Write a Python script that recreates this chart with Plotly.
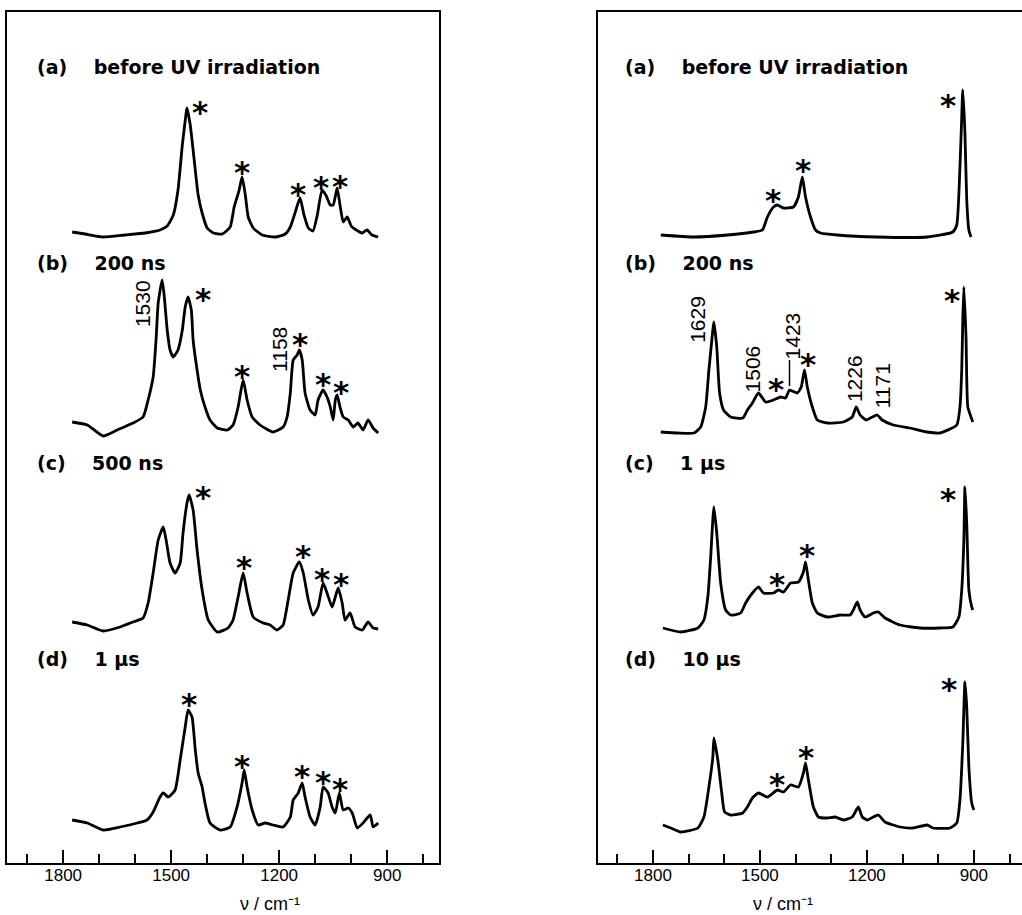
import plotly.graph_objects as go

# ---------------- data (wavenumber in cm-1, intensity above each trace's baseline, arbitrary units) ----
L_a_wn = [1775,1739,1689,1628,1572,1531,1511,1494,1481,1469,1458,1456,1447,1436,1425,1414,1400,1383,1358,1336,
          1325,1311,1303,1294,1286,1272,1247,1211,1183,1169,1156,1142,1131,1119,1106,1094,1081,1069,1058,1050,
          1039,1031,1022,1011,1000,990,969,956,942,925]
L_a_int = [6,4,1,3,5,8,12,23,48,93,126,130,113,78,43,25,10,5,4,11,
           31,48,61,43,21,10,3,1,4,11,25,40,23,10,7,23,48,42,33,33,
           50,33,16,21,12,9,5,8,3,1]

L_b_wn = [1775,1733,1689,1650,1606,1578,1564,1550,1542,1536,1525,1519,1511,1503,1494,1481,1469,1461,1453,1444,
          1439,1428,1419,1406,1392,1372,1344,1328,1314,1300,1289,1275,1253,1217,1189,1178,1169,1161,1150,1144,
          1136,1128,1114,1100,1092,1078,1067,1058,1050,1044,1039,1031,1022,1008,994,981,967,953,939,925]
L_b_int = [14,11,0,6,13,19,36,59,96,133,156,139,106,86,79,86,106,129,139,126,
           96,66,46,29,16,8,6,11,29,56,36,19,11,4,9,19,43,76,81,86,
           76,43,26,21,36,46,39,29,16,36,41,29,19,16,9,13,6,16,8,3]

L_c_wn = [1775,1733,1689,1642,1606,1578,1564,1550,1536,1522,1514,1503,1489,1475,1467,1456,1450,1439,1428,1414,
          1397,1372,1342,1328,1314,1300,1289,1272,1244,1225,1206,1189,1175,1161,1144,1133,1119,1106,1092,1078,
          1067,1053,1044,1036,1025,1017,1003,989,969,953,939,925]
L_c_int = [10,7,1,5,10,14,29,59,92,105,92,69,59,69,99,129,137,122,82,42,
           12,0,4,12,35,59,39,15,9,7,2,7,32,59,70,59,32,17,25,49,
           39,25,35,44,29,12,19,5,2,10,4,3]

L_d_wn = [1775,1733,1689,1642,1594,1567,1550,1531,1522,1508,1489,1475,1461,1453,1442,1433,1425,1414,1406,1392,
          1364,1336,1317,1303,1297,1289,1275,1258,1239,1217,1189,1169,1161,1147,1136,1128,1114,1100,1086,1078,
          1064,1053,1044,1033,1022,1008,997,983,967,947,939,925]
L_d_int = [10,7,0,3,7,10,18,33,37,33,40,70,103,120,113,80,57,43,27,7,
           0,3,23,47,60,43,20,5,7,5,3,13,30,37,47,33,13,5,23,43,
           37,23,17,37,20,22,17,2,7,15,3,7]

R_a_wn = [1778,1685,1590,1518,1493,1479,1462,1451,1434,1406,1392,1381,1372,1358,1344,1330,1283,1171,1031,959,
          948,939,934,931,925,920,914,908]
R_a_int = [2,0,2,5,7,20,30,32,29,30,40,60,40,20,7,4,2,0,0,5,
           12,70,120,147,104,37,7,0]

R_b_wn = [1778,1730,1685,1666,1652,1643,1632,1629,1621,1613,1602,1582,1548,1535,1521,1504,1484,1462,1442,1428,
          1417,1395,1384,1375,1367,1353,1339,1311,1266,1241,1230,1219,1202,1185,1171,1157,1126,1079,1031,995,
          948,939,934,931,928,922,917,908,903]
R_b_int = [1,0,0,6,26,63,103,111,86,40,23,16,15,23,30,40,31,33,36,35,
           43,40,46,63,46,26,13,10,11,16,26,18,13,16,18,13,8,5,1,0,
           8,26,63,113,146,96,26,16,11]

R_c_wn = [1772,1722,1674,1657,1646,1638,1629,1621,1610,1596,1582,1554,1540,1521,1504,1490,1462,1448,1434,1414,
          1392,1378,1372,1364,1353,1339,1311,1275,1247,1238,1227,1219,1205,1182,1168,1149,1107,1051,995,959,
          942,934,928,925,920,914,906,903]
R_c_int = [4,0,4,12,35,75,125,99,49,22,17,19,29,39,45,39,39,42,40,49,
           50,60,70,52,29,19,15,17,17,22,30,22,15,19,20,14,7,4,4,5,
           15,42,92,145,109,42,25,22]

R_d_wn = [1772,1750,1722,1674,1657,1643,1632,1629,1618,1607,1599,1582,1548,1535,1521,1504,1479,1451,1434,1414,
          1392,1378,1372,1364,1350,1336,1311,1289,1266,1241,1224,1213,1199,1182,1168,1149,1107,1071,1031,1015,
          967,948,939,931,925,920,914,906,900]
R_d_int = [7,4,0,4,15,45,75,94,72,39,20,17,19,25,34,39,35,42,40,47,
           45,59,69,52,25,15,14,15,12,15,25,15,12,15,17,10,5,4,7,4,
           4,9,32,89,150,125,65,29,22]

left_labels = ["(a)    before UV irradiation", "(b)    200 ns", "(c)    500 ns", "(d)    1 μs"]
right_labels = ["(a)    before UV irradiation", "(b)    200 ns", "(c)    1 μs", "(d)    10 μs"]
tick_vals = [1800, 1500, 1200, 900]
tick_text = ["1800", "1500", "1200", "900"]
x_title = "ν / cm⁻¹"

# band labels (rotated numbers)
left_band_labels = [("1530", 1578, 559), ("1158", 1198, 514)]
right_band_labels = [("1629", 1674, 544), ("1506", 1518, 494), ("1423", 1406, 527),
                     ("1226", 1233, 484), ("1171", 1154, 477)]

# asterisk positions (wavenumber, height in panel units)
left_stars = [(1419, 759), (1303, 699), (1147, 677), (1083, 684), (1031, 685),
              (1411, 572), (1303, 495), (1142, 527), (1078, 487), (1028, 479),
              (1411, 374), (1297, 304), (1133, 315), (1081, 292), (1028, 287),
              (1450, 167), (1303, 105), (1136, 95), (1078, 89), (1031, 82)]
right_stars = [(1462, 671), (1378, 701), (973, 766),
               (1456, 482), (1364, 507), (962, 571),
               (1453, 287), (1367, 316), (973, 372),
               (1451, 87), (1370, 114), (970, 182)]

# ---------------- layout constants ----------------
W, H = 1022, 915
left_offsets = [625, 427, 231, 33]
right_offsets = [626, 430, 231, 31]

fig = go.Figure()
LINE = dict(color="black", width=2.8, shape="spline", smoothing=0.5)

for wn, it, off in [(L_a_wn, L_a_int, left_offsets[0]), (L_b_wn, L_b_int, left_offsets[1]),
                    (L_c_wn, L_c_int, left_offsets[2]), (L_d_wn, L_d_int, left_offsets[3])]:
    fig.add_trace(go.Scatter(x=wn, y=[v + off for v in it], mode="lines", line=LINE,
                             xaxis="x", yaxis="y", showlegend=False, hoverinfo="skip"))
for wn, it, off in [(R_a_wn, R_a_int, right_offsets[0]), (R_b_wn, R_b_int, right_offsets[1]),
                    (R_c_wn, R_c_int, right_offsets[2]), (R_d_wn, R_d_int, right_offsets[3])]:
    fig.add_trace(go.Scatter(x=wn, y=[v + off for v in it], mode="lines", line=LINE,
                             xaxis="x2", yaxis="y2", showlegend=False, hoverinfo="skip"))

FONT = "DejaVu Sans, Liberation Sans, Arial, sans-serif"
LAB_FONT = dict(size=19, color="black", family=FONT)
ann = []
label_y = [67, 263, 463, 659]
for txt, yp in zip(left_labels, label_y):
    ann.append(dict(x=35 / W, y=1 - yp / H, xref="paper", yref="paper", text="<b>" + txt + "</b>",
                    showarrow=False, xanchor="left", yanchor="middle", font=LAB_FONT))
for txt, yp in zip(right_labels, label_y):
    ann.append(dict(x=623 / W, y=1 - yp / H, xref="paper", yref="paper", text="<b>" + txt + "</b>",
                    showarrow=False, xanchor="left", yanchor="middle", font=LAB_FONT))

NUM_FONT = dict(size=21, color="black", family="Liberation Sans Narrow, Liberation Sans, Arial")
for txt, xv, yv in left_band_labels:
    ann.append(dict(x=xv, y=yv, xref="x", yref="y", text=txt, showarrow=False, textangle=-90, font=NUM_FONT))
for txt, xv, yv in right_band_labels:
    ann.append(dict(x=xv, y=yv, xref="x2", yref="y2", text=txt, showarrow=False, textangle=-90, font=NUM_FONT))

STAR_FONT = dict(size=31, color="black", family="DejaVu Sans")
for xv, yv in left_stars:
    ann.append(dict(x=xv, y=yv, xref="x", yref="y", text="<b>*</b>", showarrow=False,
                    yanchor="middle", yshift=-8, font=STAR_FONT))
for xv, yv in right_stars:
    ann.append(dict(x=xv, y=yv, xref="x2", yref="y2", text="<b>*</b>", showarrow=False,
                    yanchor="middle", yshift=-8, font=STAR_FONT))

TITLE_FONT = dict(size=18, color="black", family="Liberation Sans, Arial, sans-serif")
ann.append(dict(x=238 / W, y=1 - 904 / H, xref="paper", yref="paper", text=x_title, showarrow=False,
                yanchor="middle", font=TITLE_FONT))
ann.append(dict(x=815 / W, y=1 - 904 / H, xref="paper", yref="paper", text=x_title, showarrow=False,
                yanchor="middle", font=TITLE_FONT))

shapes = [dict(type="line", xref="x2", yref="y2", x0=1417, x1=1417, y0=477, y1=503,
               line=dict(color="black", width=1.5))]

xcommon = dict(tickvals=tick_vals, ticktext=tick_text, ticks="inside", ticklen=13, tickwidth=2,
               tickcolor="black", showline=True, linecolor="black", linewidth=2, showgrid=False,
               zeroline=False, ticklabelstandoff=-4,
               tickfont=dict(size=17, color="black", family="Liberation Sans, Arial"),
               minor=dict(dtick=100, ticks="inside", ticklen=9, tickwidth=2, tickcolor="black", showgrid=False))

fig.update_layout(
    width=W, height=H, margin=dict(l=0, r=0, t=0, b=0),
    paper_bgcolor="white", plot_bgcolor="white", showlegend=False,
    xaxis=dict(domain=[7 / W, 439 / W], range=[1956, 756], anchor="y", mirror=True, **xcommon),
    yaxis=dict(domain=[(H - 863) / H, (H - 12) / H], range=[0, 851], showline=True, mirror=True,
               linecolor="black", linewidth=2, showticklabels=False, ticks="", showgrid=False, zeroline=False),
    xaxis2=dict(domain=[598 / W, 1.0], range=[1954, 765], anchor="y2", mirror=True, **xcommon),
    yaxis2=dict(domain=[(H - 863) / H, (H - 12) / H], range=[0, 851], anchor="x2", showline=True, mirror=False,
                linecolor="black", linewidth=2, showticklabels=False, ticks="", showgrid=False, zeroline=False),
    annotations=ann, shapes=shapes,
)

fig.write_html("out.html", config={"displayModeBar": False},
               post_script="document.body.style.margin='0px';document.body.style.overflow='hidden';")
